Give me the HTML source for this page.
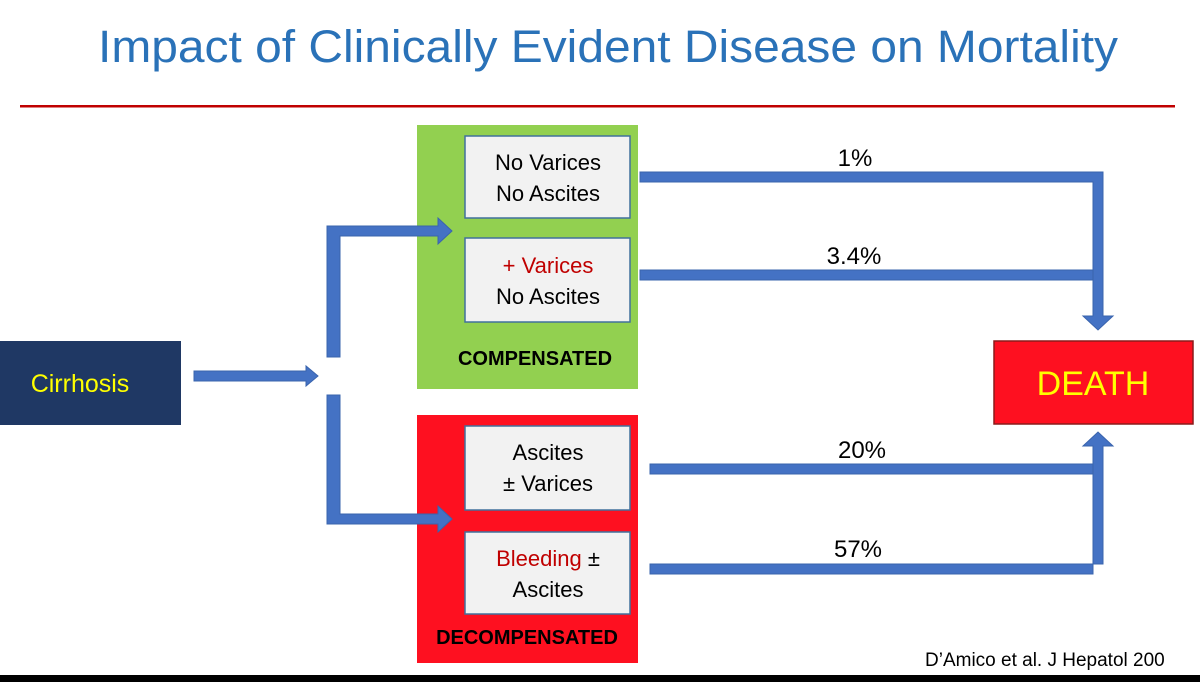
<!DOCTYPE html>
<html><head><meta charset="utf-8"><style>
body{margin:0;background:#fff;}
svg{display:block;font-family:"Liberation Sans",sans-serif;}
</style></head><body>
<svg width="1200" height="682" viewBox="0 0 1200 682">
<rect width="1200" height="682" fill="#fff"/>
<text x="608" y="62" text-anchor="middle" font-size="45" fill="#2a72b8" textLength="1020" lengthAdjust="spacingAndGlyphs">Impact of Clinically Evident Disease on Mortality</text>
<rect x="20" y="105" width="1155" height="2.5" fill="#c00000"/>

<g>
<rect x="0" y="341" width="181" height="84" fill="#1f3864"/>
<text x="80" y="392" text-anchor="middle" font-size="25" fill="#ffff00">Cirrhosis</text>
</g>

<g>
<rect x="417" y="125" width="221" height="264" fill="#92d050"/>
<rect x="465" y="136" width="165" height="82" fill="#f2f2f2" stroke="#41719c" stroke-width="1.5"/>
<text x="548" y="170" text-anchor="middle" font-size="22" fill="#000">No Varices</text>
<text x="548" y="201" text-anchor="middle" font-size="22" fill="#000">No Ascites</text>
<rect x="465" y="238" width="165" height="84" fill="#f2f2f2" stroke="#41719c" stroke-width="1.5"/>
<text x="548" y="273" text-anchor="middle" font-size="22" fill="#c00000">+ Varices</text>
<text x="548" y="304" text-anchor="middle" font-size="22" fill="#000">No Ascites</text>
<text x="535" y="365" text-anchor="middle" font-size="20" font-weight="bold" fill="#000">COMPENSATED</text>
</g>

<g>
<rect x="417" y="415" width="221" height="248" fill="#fe1020"/>
<rect x="465" y="426" width="165" height="84" fill="#f2f2f2" stroke="#41719c" stroke-width="1.5"/>
<text x="548" y="460" text-anchor="middle" font-size="22" fill="#000">Ascites</text>
<text x="548" y="491" text-anchor="middle" font-size="22" fill="#000">± Varices</text>
<rect x="465" y="532" width="165" height="82" fill="#f2f2f2" stroke="#41719c" stroke-width="1.5"/>
<text x="548" y="566" text-anchor="middle" font-size="22"><tspan fill="#c00000">Bleeding</tspan><tspan fill="#000"> ±</tspan></text>
<text x="548" y="597" text-anchor="middle" font-size="22" fill="#000">Ascites</text>
<text x="527" y="644" text-anchor="middle" font-size="20" font-weight="bold" fill="#000">DECOMPENSATED</text>
</g>

<g fill="#4472c4" stroke="#3a64ad" stroke-width="1">
<polygon points="194,371 306,371 306,366 318,376 306,386 306,381 194,381"/>
<polygon points="327,357 327,226 438,226 438,218 452,231 438,244 438,236 340,236 340,357"/>
<polygon points="327,395 327,524 438,524 438,532 452,519 438,506 438,514 340,514 340,395"/>
</g>

<g fill="#4472c4" stroke="#3a64ad" stroke-width="1">
<polygon points="640,172 1103,172 1103,316 1113,316 1098,330 1083,316 1093,316 1093,182 640,182"/>
<rect x="640" y="270" width="453" height="10"/>
<polygon points="650,564 1103,564 1103,446 1113,446 1098,432 1083,446 1093,446 1093,574 650,574"/>
<rect x="650" y="464" width="443" height="10"/>
</g>
<g font-size="24" fill="#000" text-anchor="middle">
<text x="855" y="166">1%</text>
<text x="854" y="264">3.4%</text>
<text x="862" y="458">20%</text>
<text x="858" y="557">57%</text>
</g>

<g>
<rect x="994" y="341" width="199" height="83" fill="#fe1020" stroke="#8b1a1a" stroke-width="1.5"/>
<text x="1093" y="395" text-anchor="middle" font-size="34" fill="#ffff00">DEATH</text>
</g>

<text x="925" y="666" font-size="19" fill="#000">D’Amico et al. J Hepatol 200</text>
<rect x="0" y="675" width="1200" height="7" fill="#000"/>
</svg>
</body></html>
